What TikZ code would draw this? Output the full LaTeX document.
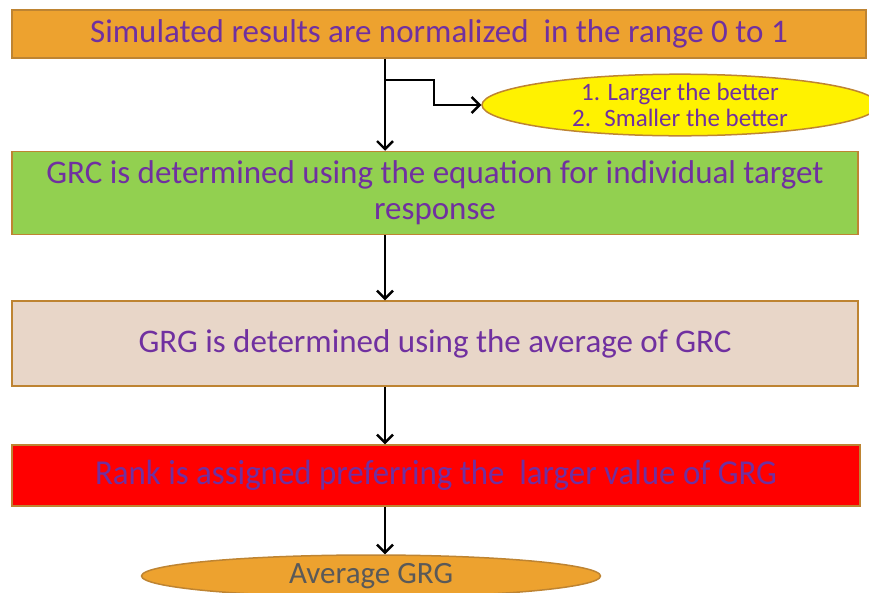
\documentclass[tikz,border=0pt]{standalone}
\usepackage{fontspec}
\setmainfont{Carlito}
\newfontfamily\narrowfont[FakeStretch=0.94]{Carlito}
\usetikzlibrary{shapes, arrows, arrows.meta}
\definecolor{txtpurple}{HTML}{7030A0}
\definecolor{boxorange}{HTML}{EDA22F}
\definecolor{boxgreen}{HTML}{92D050}
\definecolor{boxbeige}{HTML}{E8D6C8}
\definecolor{boxedge}{HTML}{BE8432}
\definecolor{avgtext}{HTML}{595959}

\begin{document}
\begin{tikzpicture}[x=1pt, y=-1pt,
	stepbox/.style={rectangle, draw=boxedge, line width=1.5pt, text=txtpurple,
		align=center, inner sep=0pt, font=\fontsize{33}{36}\selectfont},
	flow/.style={line width=2.6pt, black, -{Straight Barb[length=8pt,width=16pt,line width=2.4pt]}}
	]
	\useasboundingbox (0,0) rectangle (869,592);
	\node[stepbox, fill=boxorange, minimum width=854, minimum height=48] (norm) at (439,34)
		{Simulated results are normalized~ in the range 0 to 1};
	\node[stepbox, fill=boxgreen, minimum width=846, minimum height=83] (grc) at (435,193)
		{GRC is determined using the equation for individual target\\ response};
	\node[stepbox, fill=boxbeige, minimum width=846, minimum height=85] (grg) at (435,343.5)
		{GRG is determined using the average of GRC};
	\node[stepbox, fill=red, minimum width=848, minimum height=61, font=\narrowfont\fontsize{35}{37}\selectfont] (rank) at (436,475.5)
		{Rank is assigned preferring the~ larger value of GRG};
	\node[ellipse, draw=boxedge, line width=1.5pt, fill=yellow, text=txtpurple,
		minimum width=396, minimum height=54, inner sep=0pt, align=center,
		font=\fontsize{25}{26}\selectfont] (criteria) at (680,105)
		{1. Larger the better\\ 2.~ Smaller the better};
	\node[ellipse, draw=boxedge, line width=1.5pt, fill=boxorange, text=avgtext,
		minimum width=459, minimum height=42, inner sep=0pt,
		font=\fontsize{31}{33}\selectfont] (avg) at (371,576) {Average GRG};
	\coordinate (spine) at (385,0);
	\coordinate (split) at (385,80);
	\draw[flow] (norm.south -| spine) -- (grc.north -| spine);
	\draw[flow] (split) -- ++(49,0) |- (criteria.west);
	\draw[flow] (grc.south -| spine) -- (grg.north -| spine);
	\draw[flow] (grg.south -| spine) -- (rank.north -| spine);
	\draw[flow] (rank.south -| spine) -- (avg.north -| spine);
\end{tikzpicture}
\end{document}
